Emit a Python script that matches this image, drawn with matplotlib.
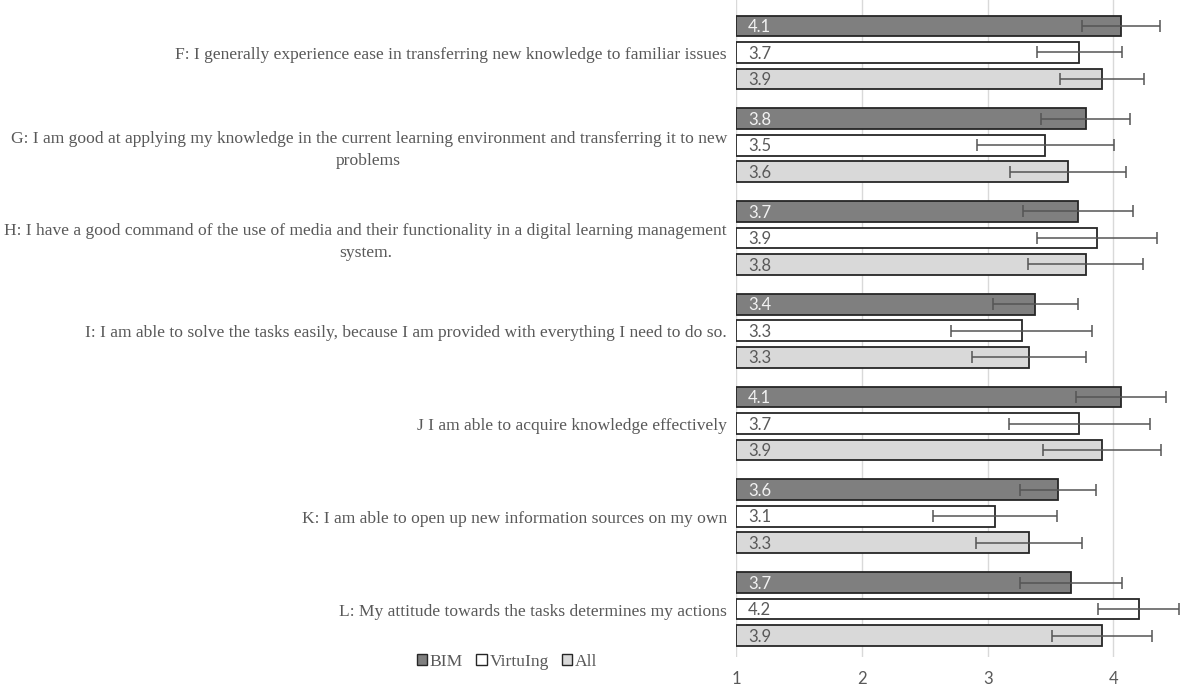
import numpy as np
import matplotlib.pyplot as plt
from matplotlib.patches import Patch

# Items of the questionnaire (top to bottom)
items = [
    "F: I generally experience ease in transferring new knowledge to familiar issues",
    "G: I am good at applying my knowledge in the current learning environment and transferring it to new\nproblems",
    "H: I have a good command of the use of media and their functionality in a digital learning management\nsystem.",
    "I: I am able to solve the tasks easily, because I am provided with everything I need to do so.",
    "J I am able to acquire knowledge effectively",
    "K: I am able to open up new information sources on my own",
    "L: My attitude towards the tasks determines my actions",
]

groups = ["BIM", "VirtuIng", "All"]

# Mean ratings per group
bim_mean = [4.06, 3.78, 3.72, 3.38, 4.06, 3.56, 3.66]
virt_mean = [3.73, 3.46, 3.87, 3.27, 3.73, 3.06, 4.20]
all_mean = [3.91, 3.64, 3.78, 3.33, 3.91, 3.33, 3.91]

# Error bar half-widths
bim_err = [0.31, 0.355, 0.435, 0.34, 0.355, 0.30, 0.405]
virt_err = [0.34, 0.545, 0.48, 0.56, 0.56, 0.495, 0.325]
all_err = [0.335, 0.46, 0.455, 0.455, 0.47, 0.42, 0.395]

means = [bim_mean, virt_mean, all_mean]
errs = [bim_err, virt_err, all_err]
fills = ["#7f7f7f", "#ffffff", "#d9d9d9"]
label_colors = ["#f2f2f2", "#595959", "#595959"]

plt.rcParams["font.family"] = ["Liberation Serif", "DejaVu Serif"]

fig = plt.figure(figsize=(11.8, 6.85), dpi=100)
ax = fig.add_axes([736 / 1180, 28 / 685, 444 / 1180, 657 / 685])

group_step = 3.5
centers = np.arange(len(items)) * group_step + 1
bar_h = 0.78

for k in range(3):
    y = centers + (k - 1)
    ax.barh(y, np.array(means[k]) - 1, left=1, height=bar_h, color=fills[k],
            edgecolor="#262626", linewidth=1.3, zorder=2)
    ax.errorbar(means[k], y, xerr=errs[k], fmt="none", ecolor="#555555",
                elinewidth=1.1, capsize=4, capthick=1.1, zorder=5)
    for yy, v in zip(y, means[k]):
        ax.text(1.095, yy + 0.04, f"{v:.1f}", ha="left", va="center",
                fontsize=12, family="Lato", color=label_colors[k], zorder=6)

for c, txt in zip(centers, items):
    shift = 0.17 if "\n" in txt else 0.1
    ax.text(0.928, c + shift, txt, ha="right", va="center", multialignment="center",
            fontsize=12.6, color="#595959", clip_on=False, linespacing=1.5)

ax.set_xlim(1, 1 + 444 / 125.8)
ax.set_ylim(23.81, -0.98)
ax.set_xticks([1, 2, 3, 4])
ax.set_xticklabels(["1", "2", "3", "4"], family="Lato", fontsize=12, color="#595959")
ax.tick_params(axis="x", length=0, pad=10)
ax.set_yticks([])
ax.grid(axis="x", color="#d9d9d9", linewidth=1, zorder=0)
ax.set_axisbelow(True)
for s in ax.spines.values():
    s.set_visible(False)

handles = [Patch(facecolor=f, edgecolor="#262626", linewidth=1) for f in fills]
fig.legend(handles, groups, loc="center", bbox_to_anchor=(507 / 1180, 1 - 662 / 685),
           ncol=3, frameon=False, fontsize=12.6, handlelength=0.6, handleheight=0.6,
           handletextpad=0.15, columnspacing=0.75, labelcolor="#595959")

fig.savefig("out.png", dpi=100)
